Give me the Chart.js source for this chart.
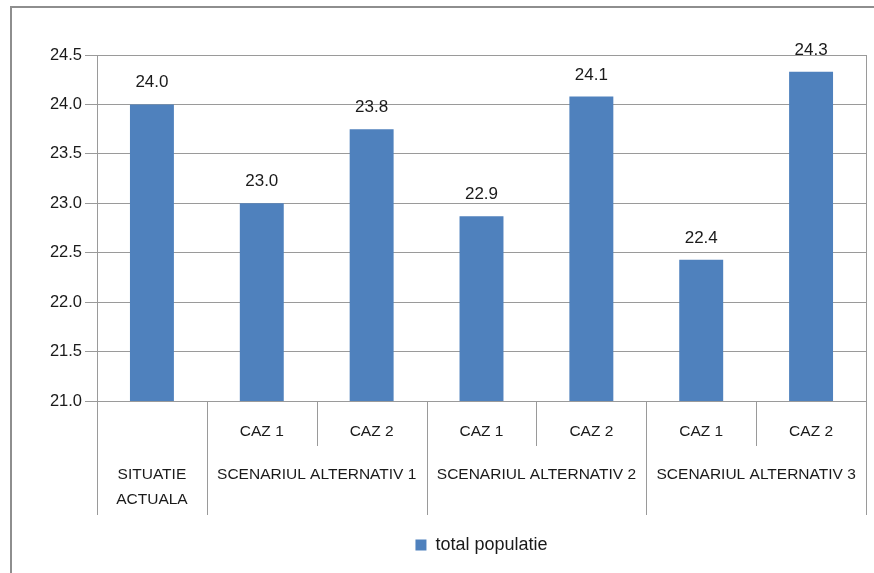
<!DOCTYPE html>
<html>
<head>
<meta charset="utf-8">
<script src="https://cdn.jsdelivr.net/npm/chart.js@4/dist/chart.umd.min.js"></script>
<style>
  html, body { margin: 0; padding: 0; background: #fff; overflow: hidden; }
  #wrap { position: relative; width: 874px; height: 573px; }
  #frame { position: absolute; left: 10px; top: 6px; width: 900px; height: 600px;
           border-left: 2px solid #8e8e8e; border-top: 2px solid #8e8e8e; }
  canvas { position: absolute; left: 0; top: 0; }
</style>
</head>
<body>
<div id="wrap">
  <div id="frame"></div>
  <canvas id="myChart" width="874" height="573"></canvas>
</div>
<script>

// categories (two level axis)
const groups = ['SITUATIE ACTUALA', 'SCENARIUL ALTERNATIV 1', 'SCENARIUL ALTERNATIV 2', 'SCENARIUL ALTERNATIV 3']
const groupOf = [0, 1, 1, 2, 2, 3, 3]
const cases = ['', 'CAZ 1', 'CAZ 2', 'CAZ 1', 'CAZ 2', 'CAZ 1', 'CAZ 2']

// series
const seriesName = 'total populatie'
const values = [24.0, 23.0, 23.75, 22.87, 24.08, 22.43, 24.33]

// y axis ticks
const yMin = 21.0
const yMax = 24.5
const yStep = 0.5

const FONT = '"Liberation Sans Narrow", "Liberation Sans", sans-serif'
const TEXT = '#1a1a1a'
const LINE = '#9a9a9a'

// value labels above bars, multi level category axis, right border
const drawExtras = {
  id: 'drawExtras',
  afterDraw: function(chart) {
    const ctx = chart.ctx
    const x = chart.scales.x
    const area = chart.chartArea
    const meta = chart.getDatasetMeta(0)
    const n = cases.length
    const step = (x.right - x.left) / n

    ctx.save()
    ctx.font = '17px ' + FONT
    ctx.fillStyle = TEXT
    ctx.textAlign = 'center'
    ctx.textBaseline = 'alphabetic'

    meta.data.forEach(function(bar, i) {
      ctx.fillText(values[i].toFixed(1), bar.x, bar.y - 17)
    })

    // right border of plot
    ctx.strokeStyle = LINE
    ctx.lineWidth = 1
    ctx.beginPath()
    ctx.moveTo(Math.round(area.right) + 0.5, area.top)
    ctx.lineTo(Math.round(area.right) + 0.5, area.bottom)
    ctx.stroke()

    // separators below the axis
    const top = area.bottom
    for (let i = 0; i <= n; i++) {
      const px = Math.round(x.left + i * step) + 0.5
      let full = i === 0 || i === n || groupOf[i] !== groupOf[i - 1]
      ctx.beginPath()
      ctx.moveTo(px, top)
      ctx.lineTo(px, top + (full ? 114 : 45))
      ctx.stroke()
    }

    ctx.font = '15.5px ' + FONT
    ctx.textBaseline = 'middle'
    // level 1: cases
    cases.forEach(function(c, i) {
      if (c) ctx.fillText(c, x.getPixelForValue(i), top + 31)
    })

    // level 2: groups
    groups.forEach(function(g, gi) {
      const idx = []
      groupOf.forEach(function(v, i) { if (v === gi) idx.push(i) })
      const cx = (x.getPixelForValue(idx[0]) + x.getPixelForValue(idx[idx.length - 1])) / 2
      const span = idx.length * step - 6
      if (ctx.measureText(g).width > span) {
        const words = g.split(' ')
        ctx.fillText(words[0], cx, top + 74)
        ctx.fillText(words.slice(1).join(' '), cx, top + 99)
      } else {
        ctx.fillText(g, cx, top + 74)
      }
    })
    ctx.restore()
  }
}

const ctx = document.getElementById('myChart').getContext('2d')
const chart = new Chart(ctx, {
  type: 'bar',
  data: {
    labels: cases.map(function(c, i) { return [c, groups[groupOf[i]]] }),
    datasets: [{
      label: seriesName,
      data: values,
      backgroundColor: '#4f81bd',
      borderWidth: 0,
      categoryPercentage: 1.0,
      barPercentage: 0.4
    }]
  },
  options: {
    responsive: false,
    animation: false,
    layout: { padding: { left: 0, right: 8, top: 55, bottom: 9 } },
    plugins: {
      legend: {
        position: 'bottom',
        fullSize: false,
        labels: {
          boxWidth: 11,
          boxHeight: 11,
          padding: 10,
          color: TEXT,
          font: { family: FONT, size: 18 }
        }
      },
      tooltip: { enabled: false }
    },
    scales: {
      x: {
        ticks: { display: false },
        grid: { display: false },
        border: { display: true, color: LINE },
        afterFit: function(scale) { scale.height = 125 }
      },
      y: {
        min: yMin,
        max: yMax,
        ticks: {
          stepSize: yStep,
          padding: 3,
          color: TEXT,
          font: { family: FONT, size: 16.5 },
          callback: function(v) { return v.toFixed(1) }
        },
        grid: { color: LINE, tickLength: 12 },
        border: { display: true, color: LINE },
        afterFit: function(scale) { scale.width = 97 }
      }
    }
  },
  plugins: [drawExtras]
})
</script>
</body>
</html>
